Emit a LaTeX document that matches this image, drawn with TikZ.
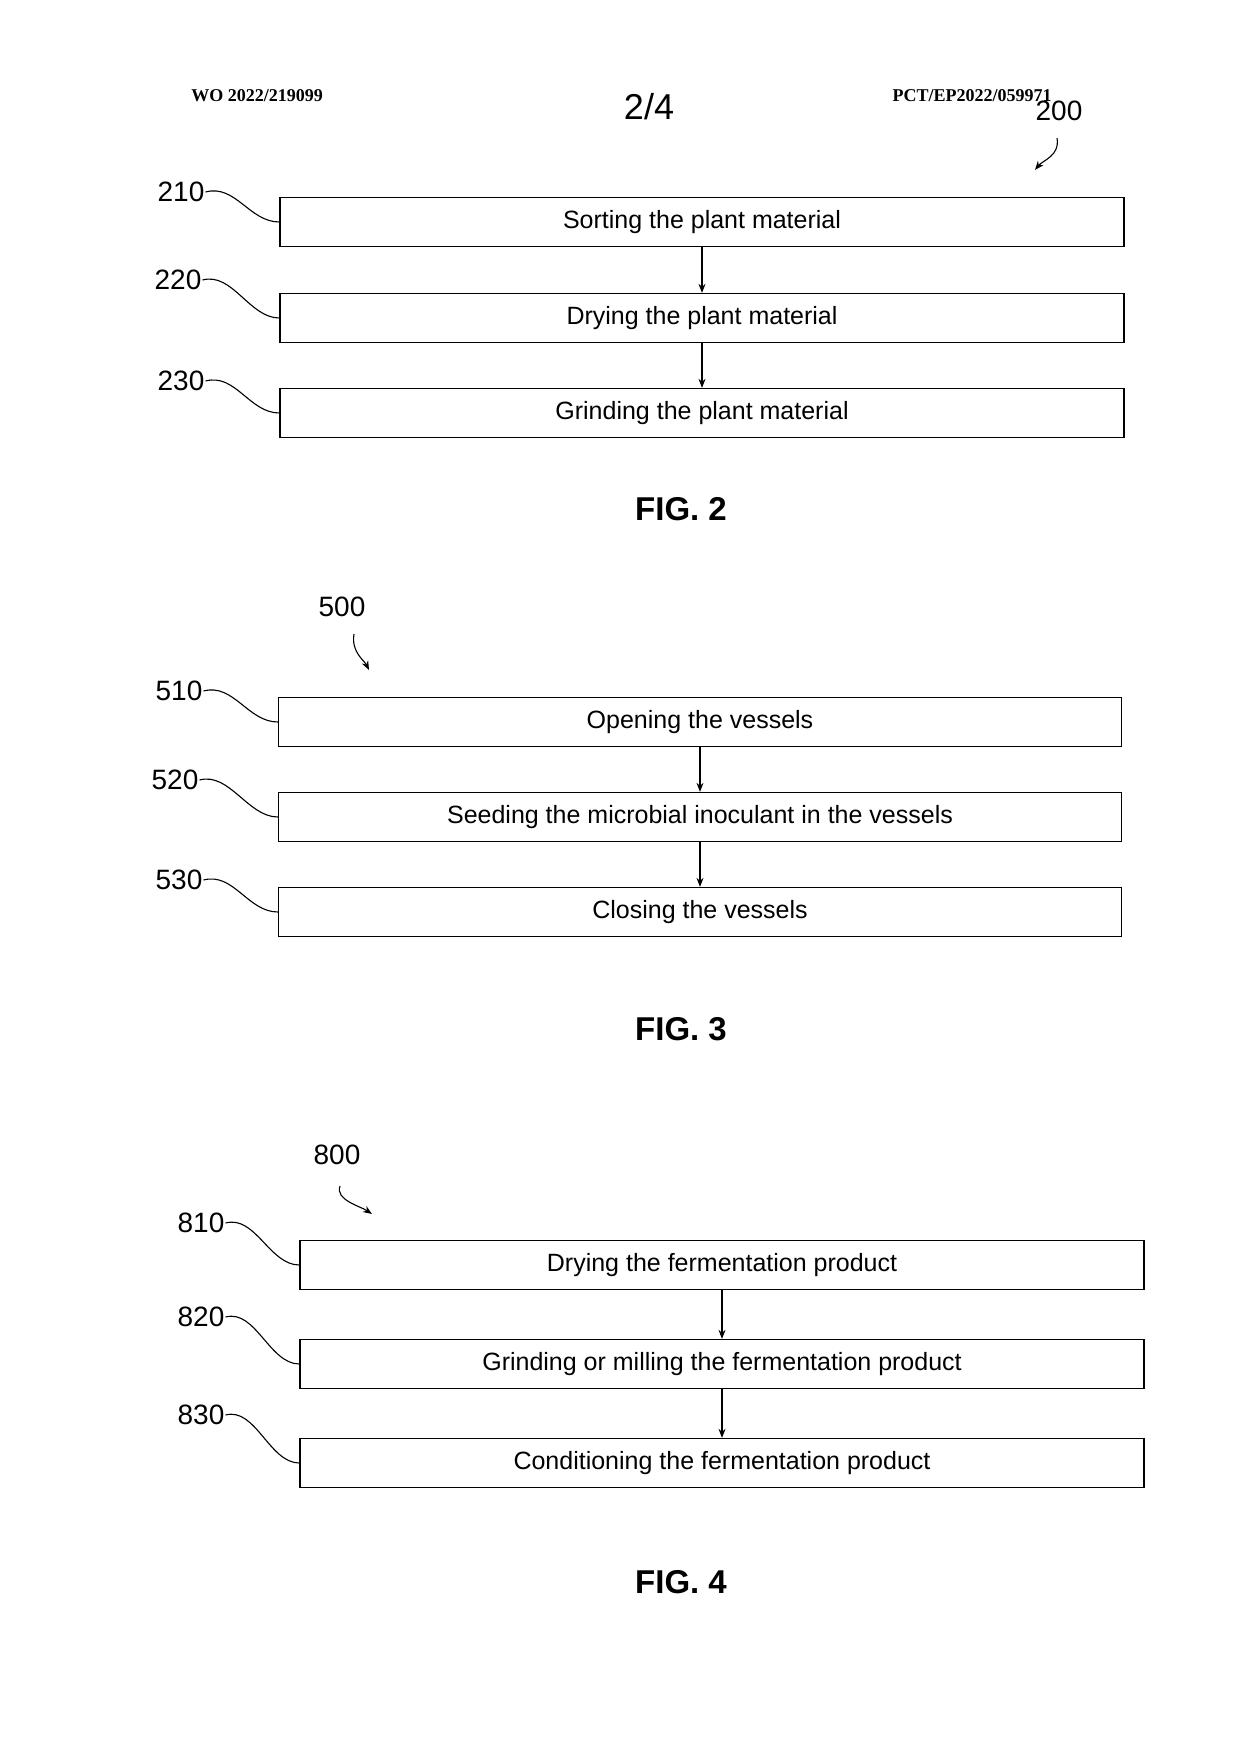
\documentclass[tikz,border=0pt]{standalone}
\usepackage{fontspec}
\setmainfont{Liberation Sans}
\newfontfamily\serifhead{Liberation Serif}
\usetikzlibrary{arrows.meta}

\begin{document}
\begin{tikzpicture}[x=1pt,y=-1pt,
        step box/.style={draw,line width=1.3pt,minimum height=49pt,inner sep=0pt,font=\fontsize{25}{25}\selectfont},
        ref label/.style={font=\fontsize{28}{28}\selectfont,inner sep=1pt},
        fig label/.style={font=\fontsize{33}{33}\selectfont\bfseries},
        flow/.style={-{Stealth[length=9pt,width=7pt]},line width=1.1pt},
        lead/.style={line width=1.1pt}]
    \useasboundingbox (0,0) rectangle (1240,1755);

    % header
    \node[font=\serifhead\fontsize{18}{18}\selectfont\bfseries] (wo) at (257,96) {WO 2022/219099};
    \node[font=\fontsize{36}{36}\selectfont] (page) at (649,107) {2/4};
    \node[font=\serifhead\fontsize{18}{18}\selectfont\bfseries] (pct) at (972,96) {PCT/EP2022/059971};

    % FIG. 2
    \node[ref label] (n200) at (1059,111) {200};
    \coordinate (a200) at (1035,170);
    \draw[flow] (1057,138) .. controls +(3,18) and +(8,-10) .. (a200);
    \node[step box,minimum width=844pt] (s210) at (702,222) {Sorting the plant material};
    \node[step box,minimum width=844pt] (s220) at (702,318) {Drying the plant material};
    \node[step box,minimum width=844pt] (s230) at (702,413) {Grinding the plant material};
    \node[ref label] (l210) at (181,192) {210};
    \node[ref label] (l220) at (178,280) {220};
    \node[ref label] (l230) at (181,381) {230};
    \draw[flow] (s210) -- (s220);
    \draw[flow] (s220) -- (s230);
    \foreach \l/\s in {l210/s210,l220/s220,l230/s230}
        \draw[lead] (\l.east) .. controls +(30,-8) and +(-30,0) .. (\s.west);
    \node[fig label] (fig2) at (681,509) {FIG. 2};

    % FIG. 3
    \node[ref label] (n500) at (342,607) {500};
    \coordinate (a500) at (369,670);
    \draw[flow] (354,634) .. controls +(-3,18) and +(-5,-10) .. (a500);
    \node[step box,minimum width=843pt] (s510) at (700,722) {Opening the vessels};
    \node[step box,minimum width=843pt] (s520) at (700,817) {Seeding the microbial inoculant in the vessels};
    \node[step box,minimum width=843pt] (s530) at (700,912) {Closing the vessels};
    \node[ref label] (l510) at (179,691) {510};
    \node[ref label] (l520) at (175,780) {520};
    \node[ref label] (l530) at (179,880) {530};
    \draw[flow] (s510) -- (s520);
    \draw[flow] (s520) -- (s530);
    \foreach \l/\s in {l510/s510,l520/s520,l530/s530}
        \draw[lead] (\l.east) .. controls +(30,-8) and +(-30,0) .. (\s.west);
    \node[fig label] (fig3) at (681,1029) {FIG. 3};

    % FIG. 4
    \node[ref label] (n800) at (337,1155) {800};
    \coordinate (a800) at (372,1214);
    \draw[flow] (340,1186) .. controls +(-5,14) and +(-12,-8) .. (a800);
    \node[step box,minimum width=844pt] (s810) at (722,1265) {Drying the fermentation product};
    \node[step box,minimum width=844pt] (s820) at (722,1364) {Grinding or milling the fermentation product};
    \node[step box,minimum width=844pt] (s830) at (722,1463) {Conditioning the fermentation product};
    \node[ref label] (l810) at (201,1223) {810};
    \node[ref label] (l820) at (201,1317) {820};
    \node[ref label] (l830) at (201,1415) {830};
    \draw[flow] (s810) -- (s820);
    \draw[flow] (s820) -- (s830);
    \foreach \l/\s in {l810/s810,l820/s820,l830/s830}
        \draw[lead] (\l.east) .. controls +(30,-8) and +(-30,0) .. (\s.west);
    \node[fig label] (fig4) at (681,1582) {FIG. 4};
\end{tikzpicture}
\end{document}
